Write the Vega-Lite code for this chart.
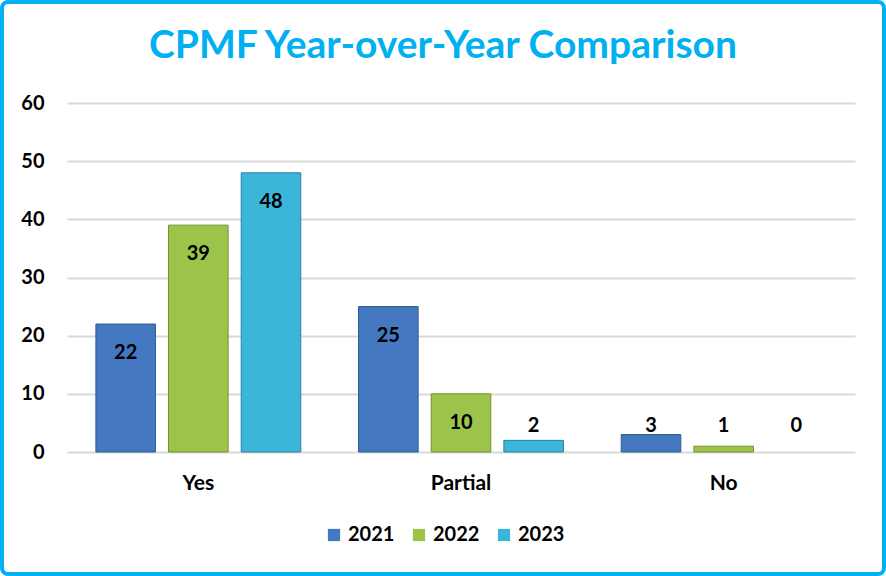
{
  "$schema": "https://vega.github.io/schema/vega-lite/v6.json",
  "width": 882,
  "height": 572,
  "autosize": "none",
  "padding": 2,
  "background": "white",
  "config": {
    "view": {"stroke": "#00B0F0", "strokeWidth": 4, "cornerRadius": 6},
    "font": "Lato"
  },
  "title": {
    "text": "CPMF Year-over-Year Comparison",
    "color": "#00B0F0",
    "fontSize": 39,
    "font": "Lato",
    "fontWeight": "bold",
    "anchor": "middle",
    "baseline": "middle",
    "offset": -83
  },
  "data": {
    "values": [
      {"category": "Yes", "year": "2021", "value": 22},
      {"category": "Yes", "year": "2022", "value": 39},
      {"category": "Yes", "year": "2023", "value": 48},
      {"category": "Partial", "year": "2021", "value": 25},
      {"category": "Partial", "year": "2022", "value": 10},
      {"category": "Partial", "year": "2023", "value": 2},
      {"category": "No", "year": "2021", "value": 3},
      {"category": "No", "year": "2022", "value": 1},
      {"category": "No", "year": "2023", "value": 0}
    ]
  },
  "encoding": {
    "x": {
      "field": "category",
      "type": "nominal",
      "sort": ["Yes", "Partial", "No"],
      "scale": {"range": [65, 853], "paddingInner": 0.22, "paddingOuter": 0.11},
      "axis": {
        "title": null,
        "domain": false,
        "ticks": false,
        "labelAngle": 0,
        "labelFontSize": 21,
        "labelFontWeight": "bold",
        "labelColor": "#000000",
        "labelPadding": 20,
        "offset": -122
      }
    },
    "xOffset": {
      "field": "year",
      "type": "nominal",
      "sort": ["2021", "2022", "2023"],
      "scale": {"paddingInner": 0.18, "paddingOuter": 0}
    },
    "y": {
      "field": "value",
      "type": "quantitative",
      "scale": {"domain": [0, 60], "range": [450, 101], "nice": false},
      "axis": {
        "title": null,
        "domain": false,
        "ticks": false,
        "values": [0, 10, 20, 30, 40, 50, 60],
        "gridColor": "#D9D9D9",
        "gridWidth": 2,
        "labelFontSize": 20,
        "labelFontWeight": "bold",
        "labelColor": "#000000",
        "labelPadding": 0,
        "offset": -42
      }
    }
  },
  "layer": [
    {
      "transform": [{"filter": "datum.value > 0"}],
      "mark": {"type": "bar", "strokeWidth": 1},
      "encoding": {
        "color": {
          "field": "year",
          "type": "nominal",
          "scale": {"domain": ["2021", "2022", "2023"], "range": ["#4479C2", "#9DC44A", "#3BB6DA"]},
          "legend": {
            "title": null,
            "orient": "none",
            "legendX": 322,
            "legendY": 523,
            "direction": "horizontal",
            "symbolType": "square",
            "symbolSize": 150,
            "symbolStrokeWidth": 0,
            "labelFontSize": 20,
            "labelFontWeight": "bold",
            "labelColor": "#000000",
            "columnPadding": 14,
            "padding": 0
          }
        },
        "stroke": {
          "field": "year",
          "type": "nominal",
          "scale": {"domain": ["2021", "2022", "2023"], "range": ["#2C5A96", "#74902F", "#23879F"]},
          "legend": null
        }
      }
    },
    {
      "transform": [{"filter": "datum.value >= 5"}],
      "mark": {"type": "text", "dy": 29, "baseline": "middle", "fontSize": 20, "fontWeight": "bold", "color": "#000000"},
      "encoding": {"text": {"field": "value", "type": "quantitative"}}
    },
    {
      "transform": [{"filter": "datum.value < 5"}],
      "mark": {"type": "text", "dy": -26, "baseline": "middle", "fontSize": 20, "fontWeight": "bold", "color": "#000000"},
      "encoding": {
        "y": {"datum": 0, "type": "quantitative"},
        "text": {"field": "value", "type": "quantitative"}
      }
    }
  ]
}
